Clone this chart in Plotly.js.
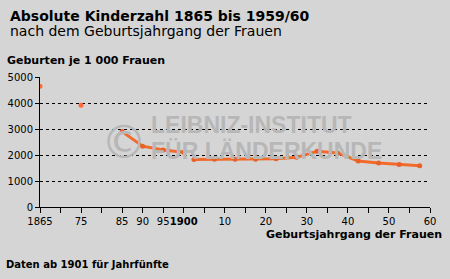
<!DOCTYPE html>
<html>
<head>
<meta charset="utf-8">
<script src="https://cdn.plot.ly/plotly-3.0.1.min.js"></script>
<style>html,body{margin:0;padding:0;background:#d5d5d5;}#chart{width:450px;height:279px;}</style>
</head>
<body>
<div id="chart"></div>
<script>
// Single early values (1865, 1875)
const yearsEarly = [1865, 1875];
const valuesEarly = [4640, 3910];
// Values 1885-1900
const yearsMid = [1885, 1890, 1895, 1900];
const valuesMid = [2900, 2340, 2190, 2110];
// Five-year groups from 1901
const yearsLate = [1902.5, 1907.5, 1912.5, 1917.5, 1922.5, 1927.5, 1932.5, 1937.5, 1942.5, 1947.5, 1952.5, 1957.5];
const valuesLate = [1830, 1840, 1840, 1840, 1860, 1910, 2140, 2080, 1770, 1690, 1630, 1590];

const xTickVals = [1865,1870,1875,1880,1885,1890,1895,1900,1905,1910,1915,1920,1925,1930,1935,1940,1945,1950,1955,1960];
const xTickText = ['1865','','75','','85','90','95','<b>1900</b>','','10','','20','','30','','40','','50','','60'];
const yTickVals = [0,1000,2000,3000,4000,5000];

const orange = '#f26b2a';
const traces = [
  {x: yearsEarly, y: valuesEarly, mode: 'markers', type: 'scatter',
   marker: {color: '#ff6a3a', size: 5}},
  {x: yearsMid, y: valuesMid, mode: 'lines+markers', type: 'scatter',
   line: {color: orange, width: 3}, marker: {color: '#e8602a', size: 5}},
  {x: yearsLate, y: valuesLate, mode: 'lines+markers', type: 'scatter',
   line: {color: orange, width: 3}, marker: {color: '#e8602a', size: 5}}
];

const f = 'DejaVu Sans, sans-serif';
const wm = 'rgb(183,183,183)';
const layout = {
  width: 450, height: 279,
  margin: {l: 40, r: 20, t: 77, b: 72},
  paper_bgcolor: '#d5d5d5', plot_bgcolor: '#d5d5d5',
  showlegend: false,
  font: {family: f, size: 10, color: '#000'},
  xaxis: {range: [1865, 1960], tickvals: xTickVals, ticktext: xTickText, tickangle: 0,
    showgrid: false, zeroline: false, showline: true, linecolor: '#000', linewidth: 1,
    ticks: 'outside', ticklen: 5, tickcolor: '#000', tickfont: {family: f, size: 10, color: '#000'}, fixedrange: true},
  yaxis: {range: [0, 5000], tickvals: yTickVals, ticktext: yTickVals.map(String),
    showgrid: true, gridcolor: '#000', griddash: 'dot', gridwidth: 1,
    zeroline: false, showline: true, linecolor: '#000', linewidth: 1,
    ticks: 'outside', ticklen: 4, tickcolor: '#000', tickfont: {family: f, size: 10, color: '#000'}, fixedrange: true},
  annotations: [
    {xref:'paper', yref:'paper', x:-0.082, y:1.47, xanchor:'left', yanchor:'middle', showarrow:false,
     text:'<b>Absolute Kinderzahl 1865 bis 1959/60</b>', font:{family:f, size:14, color:'#000'}},
    {xref:'paper', yref:'paper', x:-0.082, y:1.355, xanchor:'left', yanchor:'middle', showarrow:false,
     text:'nach dem Geburtsjahrgang der Frauen', font:{family:f, size:14, color:'#000'}},
    {xref:'paper', yref:'paper', x:-0.09, y:1.13, xanchor:'left', yanchor:'middle', showarrow:false,
     text:'<b>Geburten je 1 000 Frauen</b>', font:{family:f, size:11, color:'#000'}},
    {xref:'paper', yref:'paper', x:1.035, y:-0.215, xanchor:'right', yanchor:'middle', showarrow:false,
     text:'<b>Geburtsjahrgang der Frauen</b>', font:{family:f, size:11, color:'#000'}},
    {xref:'paper', yref:'paper', x:-0.092, y:-0.445, xanchor:'left', yanchor:'middle', showarrow:false,
     text:'<b>Daten ab 1901 für Jahrfünfte</b>', font:{family:f, size:10, color:'#000'}},
    {xref:'paper', yref:'paper', x:0.215, y:0.5, xanchor:'center', yanchor:'middle', showarrow:false,
     text:'©', font:{family:f, size:46, color:wm}},
    {xref:'paper', yref:'paper', x:0.28, y:0.63, xanchor:'left', yanchor:'middle', showarrow:false,
     text:'<b>LEIBNIZ-INSTITUT</b>', font:{family:'Liberation Sans, sans-serif', size:23, color:wm}},
    {xref:'paper', yref:'paper', x:0.28, y:0.43, xanchor:'left', yanchor:'middle', showarrow:false,
     text:'<b>FÜR LÄNDERKUNDE</b>', font:{family:'Liberation Sans, sans-serif', size:23, color:wm}}
  ]
};
Plotly.newPlot('chart', traces, layout, {staticPlot: true, displayModeBar: false});
</script>
</body>
</html>
